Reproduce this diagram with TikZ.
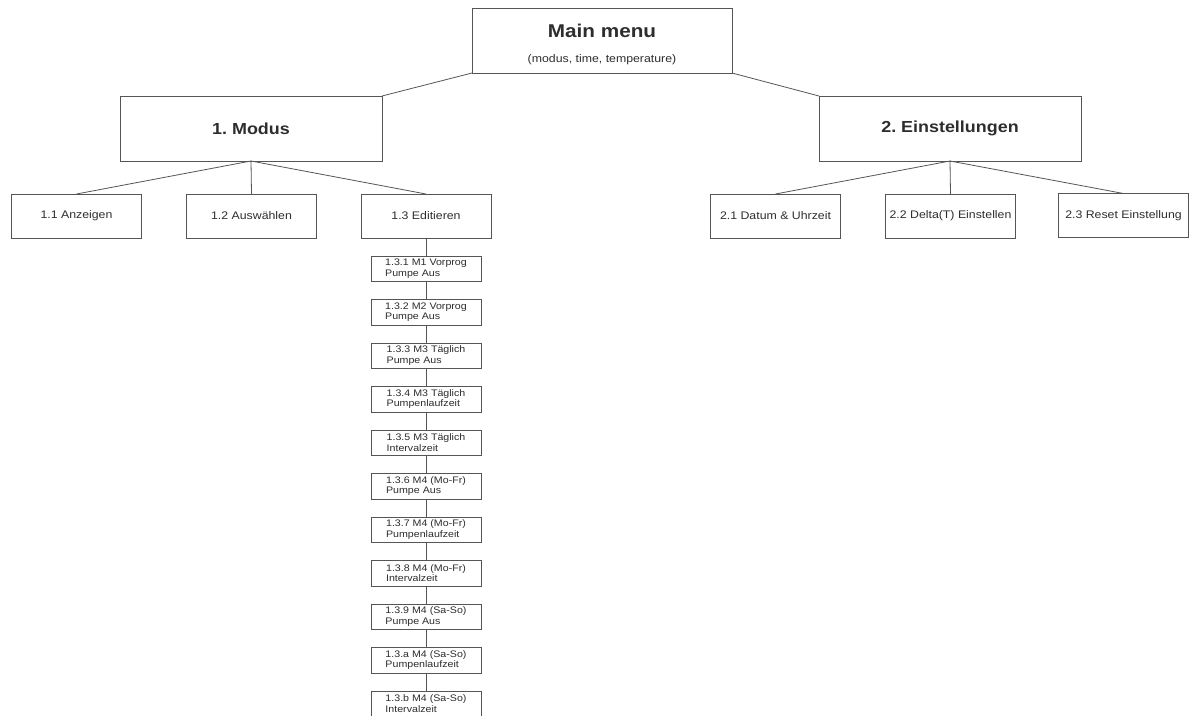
\documentclass[tikz,border=0pt]{standalone}
\usepackage{fontspec}
\setmainfont{Liberation Sans}[FakeStretch=1.12]
\usepackage{xcolor}
\definecolor{charcoal}{RGB}{45,45,45}
\definecolor{ashgrey}{RGB}{85,85,85}
\usepackage{tikz}
\usetikzlibrary{positioning}

\begin{document}
\frenchspacing
\begin{tikzpicture}[x=1pt, y=-1pt,
        menubox/.style={draw=ashgrey, line width=0.9pt, text=charcoal, inner sep=0pt, outer sep=0pt, align=center},
        headbox/.style={menubox, minimum width=262pt, minimum height=65pt, font=\fontsize{16}{19}\selectfont\bfseries},
        itembox/.style={menubox, minimum width=130pt, minimum height=44pt, font=\fontsize{11}{13}\selectfont},
        editbox/.style={menubox, minimum width=110pt, minimum height=25.5pt, align=left, font=\fontsize{9.5}{10.5}\selectfont},
        link/.style={draw=ashgrey, line width=0.8pt}]
                \useasboundingbox (0,0) rectangle (1191,715);
                % top level
                \node [headbox, minimum width=260pt] (main) at (602,40.5)
                    {\rule{0pt}{22pt}{\fontsize{18.5}{19}\selectfont Main menu}\\[6pt]{\fontsize{11}{13}\selectfont\mdseries (modus, time, temperature)}};
                \node [headbox] (modus) at (251,128.5) {1. Modus};
                \node [headbox] (settings) at (950,128.5) {2. Einstellungen};
                \draw [link] (main.south west) -- (modus.north east);
                \draw [link] (main.south east) -- (settings.north west);
                % second level
                \node [itembox] (show) at (76.5,216) {1.1 Anzeigen};
                \node [itembox] (choose) at (251.5,216) {1.2 Auswählen};
                \node [itembox] (edit) at (426,216) {1.3 Editieren};
                \node [itembox] (clock) at (775.5,216) {2.1 Datum \& Uhrzeit};
                \node [itembox] (delta) at (950.5,216) {2.2 Delta(T) Einstellen};
                \node [itembox] (reset) at (1123.5,215.5) {2.3 Reset Einstellung};
                \foreach \child in {show, choose, edit}
                    \draw [link] (modus.south) -- (\child.north);
                \foreach \child in {clock, delta, reset}
                    \draw [link] (settings.south) -- (\child.north);
                % edit column
                \foreach \n/\txt [remember=\n as \prev (initially edit)] in {
                        e1/{1.3.1 M1 Vorprog\\Pumpe Aus},
                        e2/{1.3.2 M2 Vorprog\\Pumpe Aus},
                        e3/{1.3.3 M3 Täglich\\Pumpe Aus},
                        e4/{1.3.4 M3 Täglich\\Pumpenlaufzeit},
                        e5/{1.3.5 M3 Täglich\\Intervalzeit},
                        e6/{1.3.6 M4 (Mo-Fr)\\Pumpe Aus},
                        e7/{1.3.7 M4 (Mo-Fr)\\Pumpenlaufzeit},
                        e8/{1.3.8 M4 (Mo-Fr)\\Intervalzeit},
                        e9/{1.3.9 M4 (Sa-So)\\Pumpe Aus},
                        ea/{1.3.a M4 (Sa-So)\\Pumpenlaufzeit},
                        eb/{1.3.b M4 (Sa-So)\\Intervalzeit}}
                {
                    \node [editbox, below=18pt of \prev] (\n) {\txt};
                    \draw [link] (\prev) -- (\n);
                }
\end{tikzpicture}
\end{document}
